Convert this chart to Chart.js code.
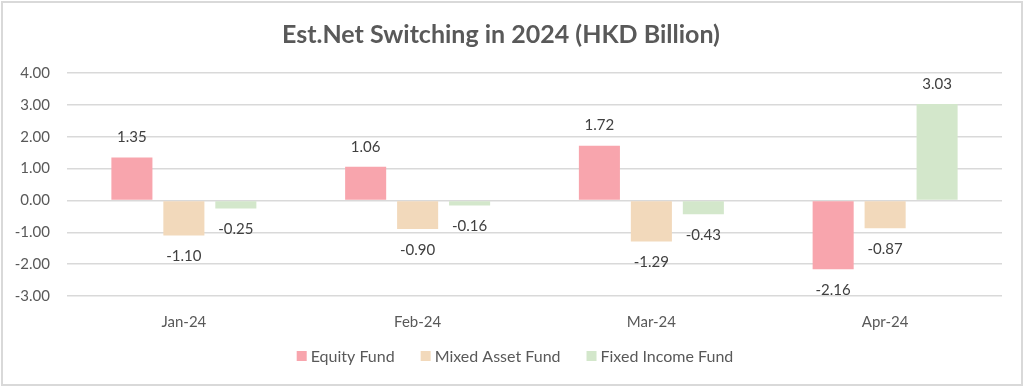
<!DOCTYPE html>
<html>
<head>
<meta charset="utf-8">
<script src="https://cdn.jsdelivr.net/npm/chart.js@4.4.1/dist/chart.umd.min.js"></script>
<style>
  html, body { margin: 0; padding: 0; background: #fff; }
  #wrap { width: 1024px; height: 387px; }
</style>
</head>
<body>
<div id="wrap"><canvas id="chartOne"></canvas></div>
<script>
const months = ['Jan-24', 'Feb-24', 'Mar-24', 'Apr-24'];
const equityFund = [1.35, 1.06, 1.72, -2.16];
const mixedAssetFund = [-1.10, -0.90, -1.29, -0.87];
const fixedIncomeFund = [-0.25, -0.16, -0.43, 3.03];
const yTicks = [4, 3, 2, 1, 0, -1, -2, -3];

const chartOne = document.getElementById('chartOne');
const font = 'Lato, "Open Sans", sans-serif';

// frame around the whole chart
const framePlugin = {
  id: 'frame',
  beforeDraw(chart) {
    const ctx = chart.ctx;
    ctx.save();
    ctx.fillStyle = '#fff';
    ctx.fillRect(0, 0, chart.width, chart.height);
    ctx.strokeStyle = '#d9d9d9';
    ctx.lineWidth = 2;
    ctx.strokeRect(2, 2, chart.width - 4, chart.height - 4);
    ctx.restore();
  }
};

// legend drawn by hand, Excel style: small square, tight gap to the text
const bottomLegend = {
  id: 'bottomLegend',
  afterDraw(chart) {
    const ctx = chart.ctx;
    const box = 10, gap = 4, spacing = 26, y = 356;
    ctx.save();
    ctx.font = '16px ' + font;
    ctx.textBaseline = 'middle';
    const items = chart.data.datasets.map(ds => ({
      text: ds.label,
      color: ds.backgroundColor,
      w: box + gap + ctx.measureText(ds.label).width
    }));
    const total = items.reduce((s, it) => s + it.w, 0) + spacing * (items.length - 1);
    let x = chart.width / 2 - total / 2 + 3;
    items.forEach(it => {
      ctx.fillStyle = it.color;
      ctx.fillRect(x, y - box / 2, box, box);
      ctx.fillStyle = '#595959';
      ctx.fillText(it.text, x + box + gap, y + 1);
      x += it.w + spacing;
    });
    ctx.restore();
  }
};

// value labels outside the end of each bar
const valueLabels = {
  id: 'valueLabels',
  afterDatasetsDraw(chart) {
    const ctx = chart.ctx;
    ctx.save();
    ctx.font = '15px ' + font;
    ctx.fillStyle = '#404040';
    ctx.textAlign = 'center';
    ctx.textBaseline = 'middle';
    chart.data.datasets.forEach((ds, i) => {
      chart.getDatasetMeta(i).data.forEach((bar, j) => {
        const v = ds.data[j];
        const y = v >= 0 ? bar.y - 20 : bar.y + 21;
        ctx.fillText(v.toFixed(2), bar.x, y);
      });
    });
    ctx.restore();
  }
};

new Chart(chartOne, {
  type: 'bar',
  data: {
    labels: months,
    datasets: [
      { label: 'Equity Fund', data: equityFund, backgroundColor: '#f8a5ad' },
      { label: 'Mixed Asset Fund', data: mixedAssetFund, backgroundColor: '#f2d9bb' },
      { label: 'Fixed Income Fund', data: fixedIncomeFund, backgroundColor: '#d3e7cb' }
    ]
  },
  options: {
    animation: false,
    responsive: true,
    maintainAspectRatio: false,
    datasets: {
      bar: { categoryPercentage: 0.667, barPercentage: 0.79, borderWidth: 0 }
    },
    layout: { padding: { left: 0, right: 22, top: 0, bottom: 39 } },
    scales: {
      x: {
        grid: { display: false, drawTicks: false },
        border: { display: false },
        ticks: { color: '#595959', font: { size: 15, family: font }, padding: 17 }
      },
      y: {
        min: -3,
        max: 4,
        afterFit(scale) { scale.width = 67; },
        afterBuildTicks(scale) { scale.ticks = yTicks.map(v => ({ value: v })); },
        grid: { color: '#d9d9d9', lineWidth: 1.5, drawTicks: false },
        border: { display: false },
        ticks: {
          color: '#595959',
          font: { size: 15, family: font },
          padding: 17,
          callback: v => v.toFixed(2)
        }
      }
    },
    plugins: {
      title: {
        display: true,
        text: 'Est.Net Switching in 2024 (HKD Billion)',
        color: '#595959',
        font: { size: 25, weight: 'bold', family: font },
        padding: { top: 20, bottom: 23 }
      },
      legend: { display: false },
      tooltip: { enabled: false }
    }
  },
  plugins: [framePlugin, valueLabels, bottomLegend]
});
</script>
</body>
</html>
